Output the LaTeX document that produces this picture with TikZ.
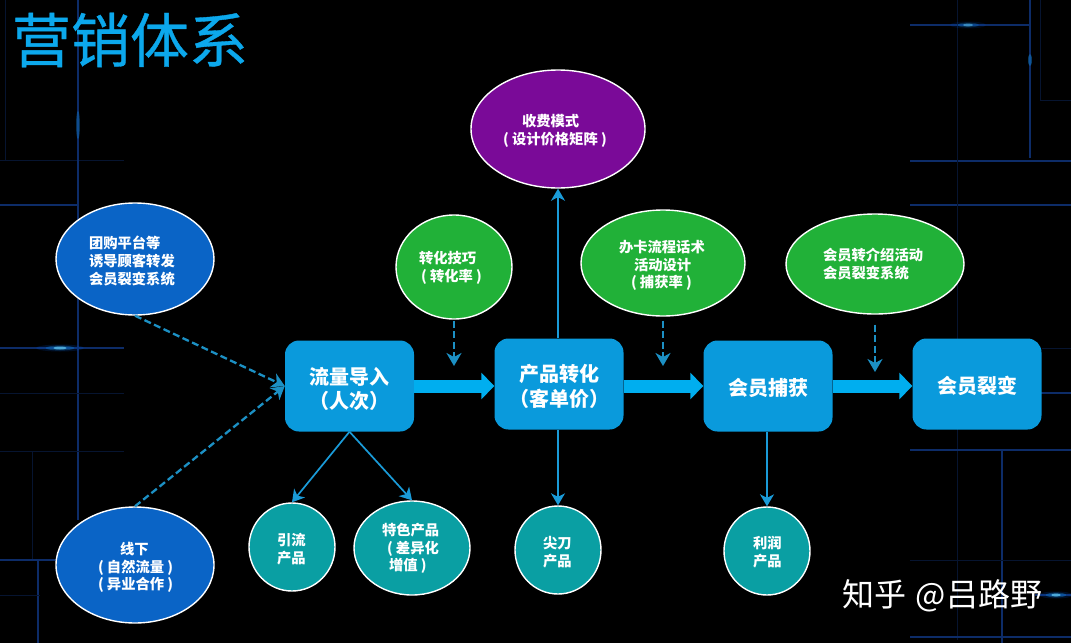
\documentclass[tikz,border=0pt]{standalone}
\usepackage{fontspec}
\setmainfont{Noto Sans CJK SC}
\newfontfamily\titlefont[FakeBold=0.6]{Noto Sans CJK SC}
\usetikzlibrary{arrows.meta,shapes.geometric}
\definecolor{titleblue}{HTML}{0CA8EC}
\definecolor{boxblue}{HTML}{0A9ADC}
\definecolor{flow}{HTML}{00AEEF}
\definecolor{thin}{HTML}{1A9BD8}
\definecolor{dash}{HTML}{1C90C4}
\definecolor{ovalblue}{HTML}{0A64C6}
\definecolor{ovalgreen}{HTML}{21B138}
\definecolor{ovalpurple}{HTML}{7A0A98}
\definecolor{ovalteal}{HTML}{0A9FA3}
\definecolor{grid}{HTML}{0D2C68}
\definecolor{gridfaint}{HTML}{061430}
\tikzset{
  x=1pt,y=-1pt,
  stagebox/.style={draw=none,fill=boxblue,rounded corners=14pt,minimum width=129pt,minimum height=91pt,inner sep=0pt,text=white,font=\fontsize{20}{23}\selectfont\bfseries},
  oval/.style={ellipse,draw=white,line width=1.4pt,inner sep=0pt,text=white,font=\fontsize{14.3}{17.7}\selectfont\bfseries},
  flowarrow/.style={draw=flow,line width=13pt,-{Triangle[length=13pt,width=26pt]}},
  thinarrow/.style={draw=thin,line width=1.7pt,-{Stealth[length=12pt,width=14pt,inset=3.5pt]}},
  dasharrow/.style={draw=dash,line width=2.3pt,dash pattern=on 7pt off 3.5pt,-{Stealth[length=13pt,width=15pt,inset=4pt]}},
  gridline/.style={draw=grid,line width=2.2pt},
  faintline/.style={draw=gridfaint,line width=1pt},
}
% text block whose left edge is #1 from the node centre, raised by #2
\newcommand{\placed}[3]{\makebox[0pt][l]{\hspace*{#1pt}\raisebox{#2pt}[0pt][0pt]{\begin{tabular}[c]{@{}l@{}}#3\end{tabular}}}}
\newcommand{\lineindent}[1]{\hspace*{#1pt}}
\newcommand{\nudged}[2]{\raisebox{#1pt}[0pt][0pt]{\begin{tabular}[c]{@{}c@{}}#2\end{tabular}}}
\newcommand{\glowspot}[4]{%
  \fill[blue!60!cyan,opacity=.14*#4] (#1,#2) ellipse (#3 and 3.5);
  \fill[cyan!60!blue,opacity=.4*#4] (#1,#2) ellipse (.6*#3 and 2.4);
  \fill[cyan!60!white,opacity=.7*#4] (#1,#2) ellipse (.28*#3 and 1.5);
}
\begin{document}
\begin{tikzpicture}
\useasboundingbox (0,0) rectangle (1071,643);
\fill[black] (0,0) rectangle (1071,643);
% background circuit lines, left
\draw[faintline] (5,0) -- (5,160);
\draw[faintline] (0,160) -- (124,160);
\draw[gridline] (78,0) -- (78,520);
\draw[gridline] (0,205) -- (78,205);
\draw[gridline] (0,348) -- (124,348);
\draw[faintline] (0,393) -- (124,393);
\draw[faintline] (0,451) -- (124,451);
\draw[faintline] (32,451) -- (32,560);
\draw[gridline] (0,560) -- (56,560);
\draw[gridline] (38,560) -- (38,643);
\draw[faintline] (0,595) -- (40,595);
\glowspot{60}{348}{24}{1}
\fill[cyan!60!blue,opacity=.4] (78,125) ellipse (2 and 14);
% background circuit lines, right
\draw[gridline] (910,25) -- (1030,25);
\draw[gridline] (1030,0) -- (1030,158);
\draw[faintline] (1040,0) -- (1040,100) -- (1071,100);
\draw[gridline] (910,161) -- (1071,161);
\draw[gridline] (910,205) -- (1071,205);
\draw[faintline] (957,0) -- (957,640);
\draw[faintline] (1042,348) -- (1071,348);
\draw[gridline] (1040,393) -- (1071,393);
\draw[gridline] (910,450) -- (1071,450);
\draw[gridline] (1002,450) -- (1002,643);
\draw[faintline] (910,560) -- (1071,560);
\draw[gridline] (1035,595) -- (1071,595);
\draw[gridline] (910,637) -- (1071,637);
\glowspot{968}{25}{18}{.7}
\glowspot{1056}{595}{17}{1}
\fill[cyan!60!blue,opacity=.5] (1030,60) ellipse (2 and 6);
% title and watermark
\node[text=titleblue,anchor=center,inner sep=0pt,font=\fontsize{59}{59}\selectfont\titlefont] (title) at (130,40) {营销体系};
\node[text=white,anchor=center,inner sep=0pt,font=\fontsize{32}{32}\selectfont] (mark) at (942.5,596) {知乎\hspace{2pt} @吕路野};
% stages
\node[stagebox] (liu) at (349.5,386) {\nudged{-10.5}{流量导入\\（人次）}};
\node[stagebox] (chan) at (559,384) {\nudged{-10}{产品转化\\（客单价）}};
\node[stagebox] (bu) at (768,386) {\nudged{-9}{会员捕获}};
\node[stagebox] (lie) at (977,384) {\nudged{-9}{会员裂变}};
% ovals
\node[oval,fill=ovalblue,minimum width=158pt,minimum height=112pt] (tuan) at (135,259) {\placed{-46}{-7.3}{团购平台等\\诱导顾客转发\\会员裂变系统}};
\node[oval,fill=ovalblue,minimum width=158pt,minimum height=116pt] (xian) at (135,565) {\placed{-37}{-7.3}{\lineindent{22}线下\\( 自然流量 )\\( 异业合作 )}};
\node[oval,fill=ovalpurple,minimum width=174pt,minimum height=118pt] (shou) at (558,129) {\placed{-55}{-6.8}{\lineindent{19}收费模式\\( 设计价格矩阵 )}};
\node[oval,fill=ovalgreen,minimum width=116pt,minimum height=104pt] (ji) at (454,267) {\placed{-35}{-5.3}{转化技巧\\\lineindent{2}( 转化率 )}};
\node[oval,fill=ovalgreen,minimum width=164pt,minimum height=106pt] (ban) at (663,263) {\placed{-44}{-7.3}{办卡流程话术\\\lineindent{15}活动设计\\\lineindent{12}( 捕获率 )}};
\node[oval,fill=ovalgreen,minimum width=178pt,minimum height=100pt] (jie) at (875,264) {\placed{-52}{-5.8}{会员转介绍活动\\会员裂变系统}};
\node[oval,fill=ovalteal,minimum width=86pt,minimum height=88pt] (yin) at (292,547) {\placed{-15}{-7.3}{引流\\产品}};
\node[oval,fill=ovalteal,minimum width=116pt,minimum height=94pt] (te) at (412,548) {\placed{-30}{-5.3}{特色产品\\\lineindent{5}( 差异化\\\lineindent{7}增值 )}};
\node[oval,fill=ovalteal,minimum width=86pt,minimum height=88pt] (jian) at (558,550) {\placed{-15}{-7.3}{尖刀\\产品}};
\node[oval,fill=ovalteal,minimum width=86pt,minimum height=88pt] (li) at (767,551) {\placed{-14}{-6.8}{利润\\产品}};
% free ends of the dashed arrows
\coordinate (cj) at (454,366);
\coordinate (cb) at (663,366);
\coordinate (cl) at (875,372);
% flow arrows
\draw[flowarrow] (liu.east) -- (chan.west |- liu.east);
\draw[flowarrow] (chan.east |- bu.west) -- (bu.west);
\draw[flowarrow] (bu.east) -- (lie.west |- bu.east);
% thin arrows
\draw[thinarrow] (liu.south) -- (yin.north);
\draw[thinarrow] (liu.south) -- (te.north);
\draw[thinarrow] (shou.south |- chan.north) -- (shou.south);
\draw[thinarrow] (jian.north |- chan.south) -- (jian.north);
\draw[thinarrow] (li.north |- bu.south) -- (li.north);
% dashed arrows
\draw[dasharrow] (tuan.south) -- (liu.west);
\draw[dasharrow] (xian.north) -- (liu.west);
\draw[dasharrow,shorten <=1pt] (ji.south) -- (cj);
\draw[dasharrow,shorten <=4pt] (ban.south) -- (cb);
\draw[dasharrow,shorten <=10pt] (jie.south) -- (cl);
\end{tikzpicture}
\end{document}
